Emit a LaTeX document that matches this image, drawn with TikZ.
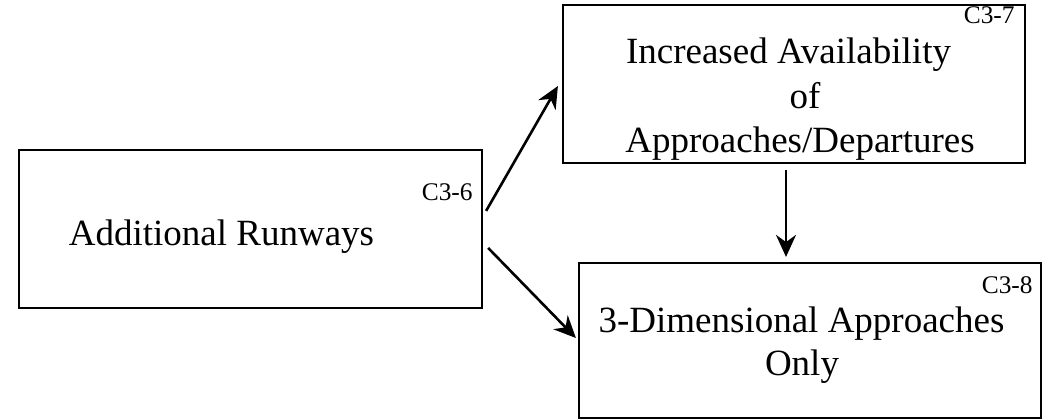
\documentclass[tikz,border=0pt]{standalone}
\usepackage{fontspec}
\setmainfont{Liberation Serif}
\usetikzlibrary{calc,arrows.meta}
\begin{document}
\begin{tikzpicture}[x=0.5pt,y=-0.5pt,
  box/.style={draw=black,line width=1.1pt,rectangle,inner sep=0pt},
  big/.style={inner sep=0pt,anchor=base,font=\fontsize{18.5}{22}\selectfont},
  tag/.style={inner sep=0pt,anchor=base east,font=\fontsize{12.7}{15}\selectfont},
  arr/.style={line width=1.3pt,-{Stealth[length=11pt,width=10pt]}}]
\useasboundingbox (0,0) rectangle (1053,419);
% boxes
\node[box,minimum width=231.5pt,minimum height=79pt] (A) at (250.5,229) {};
\node[box,minimum width=231pt,minimum height=79pt] (B) at (794,84) {};
\node[box,minimum width=231pt,minimum height=77.5pt] (C) at (810,340.5) {};
% texts
\node[big] (tA) at (221.5,245) {Additional Runways};
\node[tag] (kA) at (473,200) {C3-6};
\node[big] (tB1) at (788.5,63) {Increased Availability};
\node[big] (tB2) at (805,108) {of};
\node[big] (tB3) at (800,152) {Approaches/Departures};
\node[tag] (kB) at (1015,23) {C3-7};
\node[big] (tC1) at (801.5,332) {3-Dimensional Approaches};
\node[big] (tC2) at (802,375) {Only};
\node[tag] (kC) at (1033,293) {C3-8};
% connectors
\draw[arr] ($(A.north east)+(3,62)$) -- ($(B.west)+(-4,2)$);
\draw[arr] ($(A.north east)+(5,99)$) -- ($(C.west)+(-2,-2.5)$);
\draw[arr] ($(B.south)+(-8,6)$) -- ($(C.north)+(-24,-5)$);
\end{tikzpicture}
\end{document}
